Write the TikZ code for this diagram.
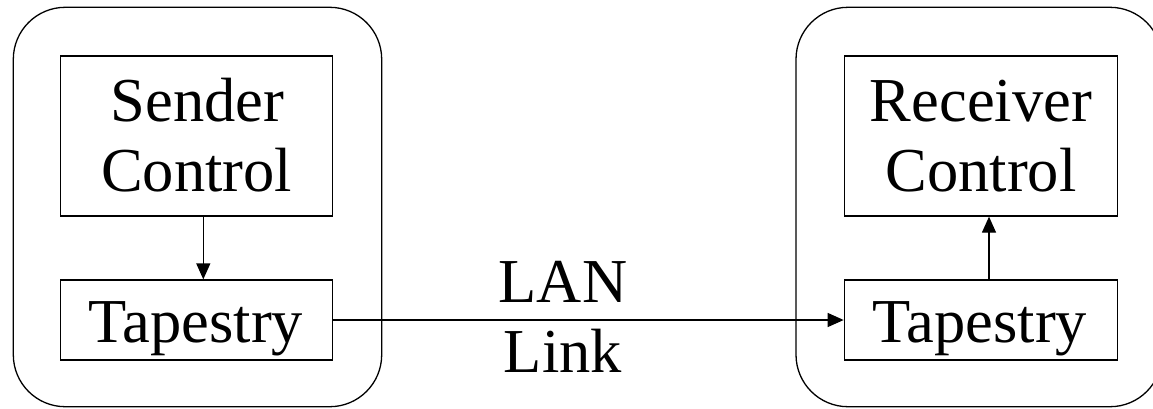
\documentclass[tikz,border=0pt]{standalone}
\usepackage{fontspec}
\setmainfont{Liberation Serif}
\usetikzlibrary{arrows.meta}
\begin{document}
\begin{tikzpicture}[x=1pt,y=-1pt,
  host/.style={draw,line width=1.3pt,rounded corners=52pt},
  box/.style={draw,line width=1.3pt,inner sep=0pt},
  lbl/.style={inner sep=0pt,anchor=base,font=\fontsize{62.5}{70}\selectfont},
  arr/.style={line width=1.3pt,-{Triangle[length=16pt,width=14pt]}}]
  \clip (0,0) rectangle (1153,408);
  % host machines
  \draw[host] (13.3,7.3) rectangle (381.7,406.7);
  \draw[host] (796,7.3) rectangle (1162,406.7);
  % sender side
  \node[box,minimum width=272pt,minimum height=160pt] (sc) at (196.7,136) {};
  \node[lbl] (sc1) at (197.5,121.7) {Sender};
  \node[lbl] (sc2) at (196.7,191.7) {Control};
  \node[box,minimum width=272pt,minimum height=80pt] (tl) at (196.7,320) {};
  \node[lbl] (tl1) at (196,342) {Tapestry};
  % receiver side
  \node[box,minimum width=273pt,minimum height=160pt] (rc) at (980.8,136) {};
  \node[lbl] (rc1) at (981,121.7) {Receiver};
  \node[lbl] (rc2) at (981,191.7) {Control};
  \node[box,minimum width=273pt,minimum height=80pt] (tr) at (980.8,320) {};
  \node[lbl] (tr1) at (980,342) {Tapestry};
  % LAN link label
  \node[lbl] (lan) at (563,302.7) {LAN};
  \node[lbl] (link) at (563,372) {Link};
  % connectors
  \draw[arr] ([xshift=6.6pt]sc.south) -- ([xshift=6.6pt]tl.north);
  \draw[arr] ([xshift=8.2pt]tr.north) -- ([xshift=8.2pt]rc.south);
  \draw[arr] (tl.east) -- (tr.west);
\end{tikzpicture}
\end{document}
